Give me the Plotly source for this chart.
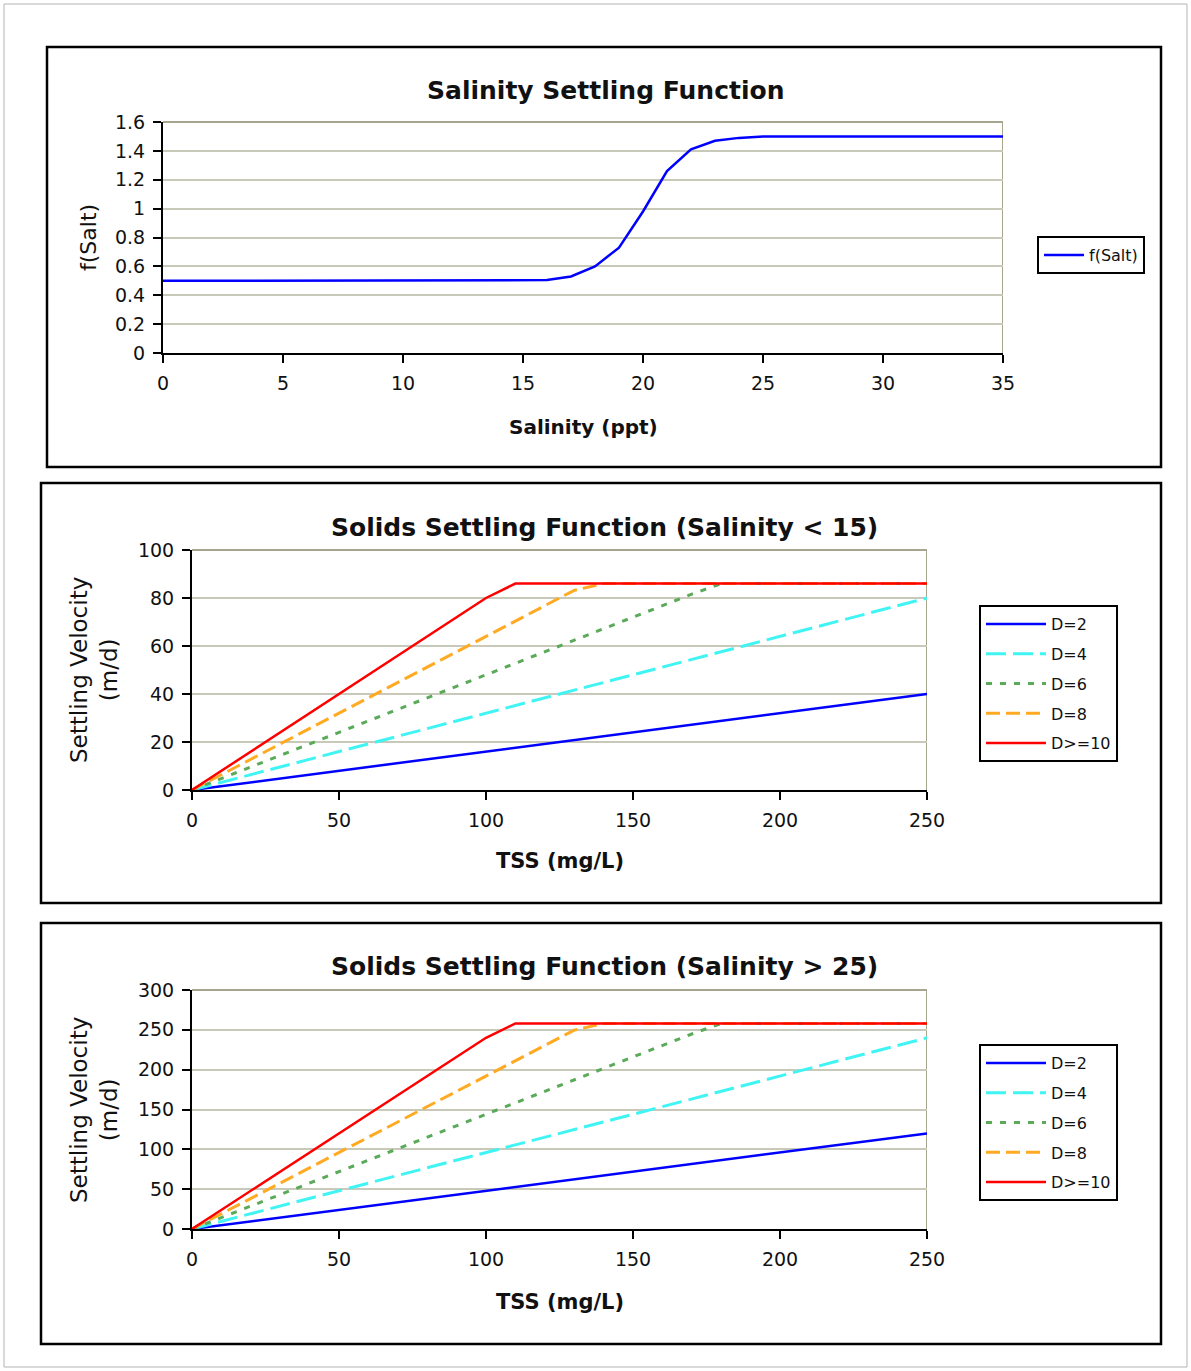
import plotly.graph_objects as go

# ---------------- data ----------------
salinity = [0, 5, 10, 14, 15, 16, 17, 18, 19, 20, 21, 22, 23, 24, 25, 30, 35]
f_salt = [0.5, 0.5, 0.5, 0.5, 0.5, 0.505, 0.53, 0.6, 0.73, 0.98, 1.26, 1.41, 1.47, 1.49, 1.5, 1.5, 1.5]

series_names = ["D=2", "D=4", "D=6", "D=8", "D>=10"]

tss_d2 = [0, 250]
tss_d4 = [0, 250]
tss_d6 = [0, 170, 180, 250]
tss_d8 = [0, 130, 140, 250]
tss_d10 = [0, 100, 110, 250]

low_d2 = [0, 40]
low_d4 = [0, 80]
low_d6 = [0, 81.6, 86, 86]
low_d8 = [0, 83.2, 86, 86]
low_d10 = [0, 80, 86, 86]

high_d2 = [0, 120]
high_d4 = [0, 240]
high_d6 = [0, 244.8, 258, 258]
high_d8 = [0, 249.6, 258, 258]
high_d10 = [0, 240, 258, 258]

# ---------------- styling ----------------
W, H = 1191, 1371
FONT = "DejaVu Sans"
GRID = "#c9c9b9"
BORDER_GRAY = "#a6a68e"


def px(x):
    return x / W


def py(y):
    return 1 - y / H


styles = [
    dict(color="#0000ff", width=2.5, dash="solid"),
    dict(color="#40f4f4", width=3, dash="20px,7px"),
    dict(color="#5aaa5a", width=3, dash="6px,8px"),
    dict(color="#ffaa22", width=3, dash="14px,6px"),
    dict(color="#ff0000", width=2.5, dash="solid"),
]

fig = go.Figure()

fig.add_trace(go.Scatter(x=salinity, y=f_salt, mode="lines", name="f(Salt)",
                         line=dict(color="#0000ff", width=2.5),
                         xaxis="x", yaxis="y", legend="legend"))

low_x = [tss_d2, tss_d4, tss_d6, tss_d8, tss_d10]
low_y = [low_d2, low_d4, low_d6, low_d8, low_d10]
high_y = [high_d2, high_d4, high_d6, high_d8, high_d10]

for i, name in enumerate(series_names):
    fig.add_trace(go.Scatter(x=low_x[i], y=low_y[i], mode="lines", name=name,
                             line=styles[i], xaxis="x2", yaxis="y2",
                             legend="legend2", legendgroup="a" + str(i)))
for i, name in enumerate(series_names):
    fig.add_trace(go.Scatter(x=low_x[i], y=high_y[i], mode="lines", name=name,
                             line=styles[i], xaxis="x3", yaxis="y3",
                             legend="legend3", legendgroup="b" + str(i)))

tickfont = dict(family=FONT, size=19, color="#111111")


def xaxis(dom, anchor, rng, dtick):
    return dict(domain=dom, anchor=anchor, range=rng, dtick=dtick, tick0=0,
                showgrid=False, zeroline=False, showline=True, linecolor="black",
                linewidth=2, ticks="outside", ticklen=8, tickwidth=2,
                tickcolor="black", tickfont=tickfont, ticklabelstandoff=4,
                fixedrange=True, automargin=False)


def yaxis(dom, anchor, rng, dtick):
    return dict(domain=dom, anchor=anchor, range=rng, dtick=dtick, tick0=0,
                showgrid=True, gridcolor=GRID, gridwidth=2, zeroline=False,
                showline=True, linecolor="black", linewidth=2, ticks="outside",
                ticklen=8, tickwidth=2, tickcolor="black", tickfont=tickfont,
                ticklabelstandoff=4, fixedrange=True, automargin=False)


p1x = [px(163), px(1003)]
p1y = [py(353), py(122)]
p2x = [px(192), px(927)]
p2y = [py(790), py(550)]
p3x = [px(192), px(927)]
p3y = [py(1229), py(990)]

legfont = dict(family=FONT, size=16, color="#111111")

fig.update_layout(
    width=W, height=H, margin=dict(l=0, r=0, t=0, b=0, autoexpand=False),
    paper_bgcolor="white", plot_bgcolor="white",
    xaxis=xaxis(p1x, "y", [0, 35], 5),
    yaxis=yaxis(p1y, "x", [0, 1.6], 0.2),
    xaxis2=xaxis(p2x, "y2", [0, 250], 50),
    yaxis2=yaxis(p2y, "x2", [0, 100], 20),
    xaxis3=xaxis(p3x, "y3", [0, 250], 50),
    yaxis3=yaxis(p3y, "x3", [0, 300], 50),
    legend=dict(x=px(1037), y=py(236), xanchor="left", yanchor="top",
                bordercolor="black", borderwidth=2, font=legfont, bgcolor="white",
                itemwidth=40),
    legend2=dict(x=px(979), y=py(605), xanchor="left", yanchor="top",
                 bordercolor="black", borderwidth=2, font=legfont, bgcolor="white",
                 tracegroupgap=6, itemwidth=60),
    legend3=dict(x=px(979), y=py(1044), xanchor="left", yanchor="top",
                 bordercolor="black", borderwidth=2, font=legfont, bgcolor="white",
                 tracegroupgap=6, itemwidth=60),
    showlegend=True,
)

shapes = []
# outer light border
shapes.append(dict(type="rect", xref="paper", yref="paper", x0=px(4), x1=px(1187),
                   y0=py(1367), y1=py(4), line=dict(color="#b4b4b4", width=1)))
# panel frames
for (x0, y0, x1, y1) in [(47, 47, 1161, 467), (41, 483, 1161, 903), (41, 923, 1161, 1344)]:
    shapes.append(dict(type="rect", xref="paper", yref="paper", x0=px(x0), x1=px(x1),
                       y0=py(y1), y1=py(y0), line=dict(color="black", width=2.5)))
# gray top/right plot borders
for ax, xmax in [("", 35), ("2", 250), ("3", 250)]:
    shapes.append(dict(type="line", xref="x" + ax, yref="y" + ax + " domain",
                       x0=xmax, x1=xmax, y0=0, y1=1,
                       line=dict(color=BORDER_GRAY, width=2), layer="below"))
    shapes.append(dict(type="line", xref="x" + ax + " domain", yref="y" + ax + " domain",
                       x0=0, x1=1, y0=1, y1=1,
                       line=dict(color=BORDER_GRAY, width=2), layer="below"))
fig.update_layout(shapes=shapes)

ann = []


def text(x, y, s, size, bold=False, angle=0):
    ann.append(dict(x=px(x), y=py(y), xref="paper", yref="paper", text=s,
                    showarrow=False, xanchor="center", yanchor="middle",
                    textangle=angle,
                    font=dict(family=FONT, size=size, color="#111111",
                              weight="bold" if bold else "normal")))


text(605, 90, "Salinity Settling Function", 25, bold=True)
text(583, 427, "Salinity (ppt)", 20, bold=True)
text(88, 238, "f(Salt)", 22, angle=-90)

text(604, 527, "Solids Settling Function (Salinity &lt; 15)", 25, bold=True)
text(560, 861, "TSS (mg/L)", 21, bold=True)
text(94, 670, "Settling Velocity<br>(m/d)", 23, angle=-90)

text(604, 966, "Solids Settling Function (Salinity &gt; 25)", 25, bold=True)
text(560, 1302, "TSS (mg/L)", 21, bold=True)
text(94, 1110, "Settling Velocity<br>(m/d)", 23, angle=-90)

fig.update_layout(annotations=ann)

fig.write_html("out.html")
